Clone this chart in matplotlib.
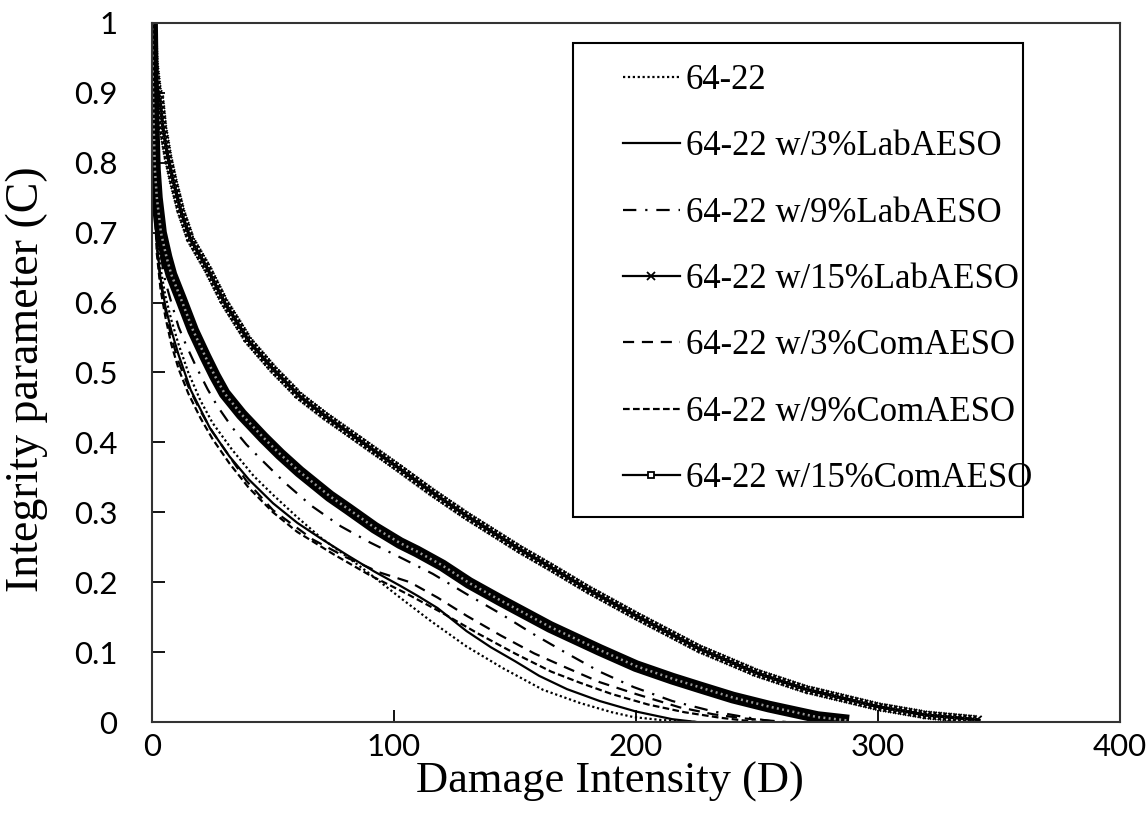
import matplotlib
matplotlib.use("Agg")
import matplotlib.pyplot as plt
from matplotlib import patheffects as pe
from matplotlib.lines import Line2D
from matplotlib.patches import Rectangle

# Damage intensity (D) vs integrity parameter (C) for each binder blend
D_base = [0, 0.3, 0.7, 1.2, 2, 3.5, 5.5, 8, 11, 15, 20, 25, 33, 42, 50, 60, 70, 80, 90,
          102.5, 115, 130, 145, 161.6, 177, 190, 199, 210, 225]
C_base = [1.0, 0.89, 0.82, 0.76, 0.7, 0.65, 0.61, 0.575, 0.54, 0.5, 0.46, 0.428, 0.39, 0.352,
          0.325, 0.293, 0.263, 0.238, 0.212, 0.178, 0.145, 0.108, 0.077, 0.046, 0.027, 0.014,
          0.007, 0.003, 0.0]

D_lab3 = [0, 0.3, 0.7, 1.2, 2, 3.5, 5.5, 8, 11, 16, 24, 32, 40, 50, 60, 70, 81, 92, 102.5,
          110, 118, 130, 140, 150, 160, 171.5, 185, 200, 215, 225]
C_lab3 = [1.0, 0.88, 0.8, 0.74, 0.685, 0.635, 0.595, 0.56, 0.525, 0.475, 0.42, 0.38, 0.347,
          0.313, 0.285, 0.262, 0.238, 0.215, 0.195, 0.18, 0.163, 0.13, 0.107, 0.087, 0.066,
          0.047, 0.03, 0.015, 0.004, 0.0]

D_lab9 = [0, 0.3, 0.7, 1.2, 2, 3.5, 5.5, 8, 11, 14, 18, 23, 27, 33, 39, 45, 55, 66, 78, 90,
          104, 116, 130, 144, 157, 170, 185, 199, 215, 232, 245, 258]
C_lab9 = [1.0, 0.9, 0.83, 0.77, 0.72, 0.67, 0.63, 0.6, 0.565, 0.54, 0.51, 0.476, 0.452, 0.422,
          0.397, 0.376, 0.342, 0.309, 0.28, 0.257, 0.233, 0.212, 0.183, 0.155, 0.127, 0.101,
          0.072, 0.05, 0.03, 0.015, 0.007, 0.0]

D_lab15 = [0, 0.5, 1, 2, 3.3, 4.5, 6.5, 8.7, 12, 16, 22.7, 30, 40, 50, 61, 71.5, 85, 102.5,
           116, 130, 152, 164.5, 180, 200, 226, 250, 270, 288, 300, 320, 342]
C_lab15 = [1.0, 0.97, 0.94, 0.91, 0.89, 0.85, 0.81, 0.775, 0.73, 0.69, 0.65, 0.6, 0.545,
           0.505, 0.466, 0.438, 0.405, 0.362, 0.328, 0.295, 0.247, 0.222, 0.19, 0.152, 0.105,
           0.07, 0.047, 0.032, 0.022, 0.01, 0.003]

D_com3 = [0, 0.3, 0.7, 1.2, 2, 3.5, 5.5, 8, 11, 15, 20, 25, 32, 39, 50, 66.5, 80, 94, 106.6,
          118, 130, 144, 158, 171, 185, 200, 218, 232, 245, 262]
C_com3 = [1.0, 0.88, 0.8, 0.74, 0.68, 0.63, 0.59, 0.55, 0.515, 0.48, 0.445, 0.415, 0.38,
          0.345, 0.303, 0.261, 0.236, 0.214, 0.2, 0.178, 0.152, 0.124, 0.098, 0.078, 0.057,
          0.04, 0.021, 0.011, 0.005, 0.0]

D_com9 = [0, 0.3, 0.7, 1.2, 2, 3.5, 5.5, 8, 11, 15, 20, 25, 32, 40, 50, 60, 75, 90, 105, 120,
          135, 150, 165, 177, 190, 205, 220, 235, 250]
C_com9 = [1.0, 0.87, 0.79, 0.73, 0.67, 0.62, 0.58, 0.54, 0.505, 0.47, 0.435, 0.405, 0.37,
          0.335, 0.3, 0.272, 0.24, 0.21, 0.184, 0.156, 0.126, 0.098, 0.072, 0.056, 0.04,
          0.025, 0.014, 0.006, 0.0]

D_com15 = [0, 0.3, 0.7, 1.2, 2, 3.7, 6, 8, 12, 17, 22, 26, 30, 37, 46, 53, 61, 73.5, 81, 92,
           102.5, 109.5, 120, 131, 144, 164.5, 185, 200, 215, 226, 240, 255, 275, 288]
C_com15 = [1.0, 0.92, 0.85, 0.79, 0.75, 0.70, 0.665, 0.64, 0.605, 0.56, 0.523, 0.495, 0.47,
           0.44, 0.407, 0.383, 0.358, 0.323, 0.305, 0.278, 0.256, 0.244, 0.224, 0.199,
           0.174, 0.136, 0.103, 0.08, 0.062, 0.05, 0.035, 0.022, 0.007, 0.002]

labels = ["64-22", "64-22 w/3%LabAESO", "64-22 w/9%LabAESO", "64-22 w/15%LabAESO",
          "64-22 w/3%ComAESO", "64-22 w/9%ComAESO", "64-22 w/15%ComAESO"]

x_ticks = [0, 100, 200, 300, 400]
y_ticks = [0, 0.1, 0.2, 0.3, 0.4, 0.5, 0.6, 0.7, 0.8, 0.9, 1]
y_tick_labels = ["0", "0.1", "0.2", "0.3", "0.4", "0.5", "0.6", "0.7", "0.8", "0.9", "1"]

serif = ["Liberation Serif", "DejaVu Serif"]
sans = ["Lato", "DejaVu Sans"]

fig = plt.figure(figsize=(11.48, 8.21), dpi=100)
ax = fig.add_axes([152 / 1148, 1 - 722 / 821, 968 / 1148, (722 - 23) / 821])

lw = 1.6
dot_style = (0, (1, 1.2))
dashdot_style = (0, (6, 4, 1, 4))
dash_long = (0, (5, 3.5))
dash_short = (0, (3, 1.5))

# densely marked curves: crosses stamped along the 15% LabAESO path
cross_fx = [pe.Normal()] + [
    pe.TickedStroke(spacing=3.6, angle=a, length=1.0, linewidth=1.3)
    for a in (45, 135, -45, -135)
]
# chain of small hollow squares along the 15% ComAESO path
square_fx = [
    pe.Stroke(linewidth=8.5, foreground="black"),
    pe.Stroke(linewidth=1.8, foreground="#9a9a9a",
              dashes={"dash_offset": 0, "dash_list": [1.4, 2.4]}),
]

ax.plot(D_base, C_base, color="black", lw=lw, linestyle=dot_style)
ax.plot(D_lab3, C_lab3, color="black", lw=lw, linestyle="-")
ax.plot(D_lab9, C_lab9, color="black", lw=lw, linestyle=dashdot_style)
ax.plot(D_com3, C_com3, color="black", lw=lw, linestyle=dash_long)
ax.plot(D_com9, C_com9, color="black", lw=lw, linestyle=dash_short)
ax.plot(D_lab15, C_lab15, color="black", lw=lw, linestyle="-", path_effects=cross_fx,
        solid_joinstyle="round")
ax.plot(D_com15, C_com15, color="black", lw=lw, linestyle="-", path_effects=square_fx,
        solid_joinstyle="round", solid_capstyle="butt")

ax.set_xlim(0, 400)
ax.set_ylim(0, 1)
ax.set_xticks(x_ticks)
ax.set_yticks(y_ticks)
ax.set_yticklabels(y_tick_labels)
for lab in ax.get_xticklabels() + ax.get_yticklabels():
    lab.set_fontfamily(sans)
    lab.set_fontsize(22.5)
ax.tick_params(axis="both", direction="in", length=9, width=1.3, color="black")
ax.tick_params(axis="y", pad=25)
ax.tick_params(axis="x", pad=8)
for sp in ax.spines.values():
    sp.set_linewidth(1.5)
    sp.set_color("#333333")

ax.set_xlabel("Damage Intensity (D)", fontsize=32, family=serif)
ax.set_ylabel("Integrity parameter (C)", fontsize=33, family=serif)
ax.xaxis.set_label_coords(0.473, -0.057)
ax.yaxis.set_label_coords(-0.107, 0.49)

# legend: thin line samples with a single marker each
handles = [
    Line2D([], [], color="black", lw=lw, linestyle=dot_style),
    Line2D([], [], color="black", lw=lw, linestyle="-"),
    Line2D([], [], color="black", lw=lw, linestyle=dashdot_style),
    Line2D([], [], color="black", lw=lw, linestyle="-", marker="x", markersize=6,
           markeredgewidth=1.3),
    Line2D([], [], color="black", lw=lw, linestyle=dash_long),
    Line2D([], [], color="black", lw=lw, linestyle=dash_short),
    Line2D([], [], color="black", lw=lw, linestyle="-", marker="s", markersize=5,
           markeredgewidth=1.3, markerfacecolor="white"),
]

axw, axh = 968.0, 699.0
box = Rectangle(((573 - 152) / axw, (722 - 517) / axh), 450 / axw, 474 / axh,
                transform=ax.transAxes, facecolor="white", edgecolor="black",
                linewidth=1.5, zorder=4)
ax.add_patch(box)
leg = ax.legend(handles, labels, loc="upper left",
                bbox_to_anchor=((623 - 152) / axw, (722 - 64) / axh),
                borderaxespad=0, borderpad=0, frameon=False,
                prop={"family": serif, "size": 25}, handlelength=1.64, handletextpad=0.17,
                labelspacing=0.96, numpoints=1)
leg.set_zorder(5)

fig.savefig("out.png", dpi=100)
